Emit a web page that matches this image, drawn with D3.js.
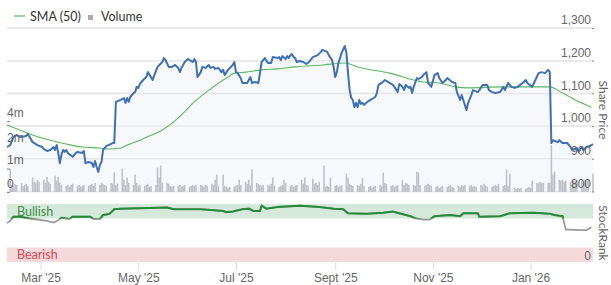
<!DOCTYPE html>
<html>
<head>
<meta charset="utf-8">
<script src="https://cdn.jsdelivr.net/npm/d3@7"></script>
<style>
  body { margin: 0; background: #fff; }
  svg { display: block; font-family: Lato, "Open Sans", sans-serif; }
  .axis .domain { display: none; }
  .axis text { fill: #666; font-size: 12px; }
</style>
</head>
<body>
<svg width="611" height="285"></svg>
<script>
// closing share price
var priceSeries = [
  ["2025-02-08",936],["2025-02-10",942],["2025-02-12",967],["2025-02-14",973],["2025-02-16",967],
  ["2025-02-20",970],["2025-02-21",976],["2025-02-24",951],["2025-02-27",942],["2025-03-02",936],
  ["2025-03-03",930],["2025-03-05",924],["2025-03-07",927],["2025-03-09",936],["2025-03-10",927],
  ["2025-03-11",942],["2025-03-12",918],["2025-03-13",887],["2025-03-14",912],["2025-03-15",927],
  ["2025-03-16",921],["2025-03-17",927],["2025-03-18",918],["2025-03-21",906],["2025-03-23",918],
  ["2025-03-24",921],["2025-03-27",918],["2025-03-28",924],["2025-03-29",887],["2025-03-31",890],
  ["2025-04-02",887],["2025-04-03",875],["2025-04-04",893],["2025-04-05",875],["2025-04-06",860],
  ["2025-04-07",881],["2025-04-08",890],["2025-04-09",927],["2025-04-11",939],["2025-04-15",948],
  ["2025-04-16",948],["2025-04-17",1074],["2025-04-20",1080],["2025-04-22",1086],["2025-04-23",1071],
  ["2025-04-24",1086],["2025-04-25",1074],["2025-04-26",1089],["2025-04-28",1101],["2025-04-29",1104],
  ["2025-04-30",1120],["2025-05-01",1117],["2025-05-02",1129],["2025-05-04",1141],["2025-05-06",1150],
  ["2025-05-07",1165],["2025-05-10",1141],["2025-05-11",1156],["2025-05-13",1181],["2025-05-16",1196],
  ["2025-05-17",1208],["2025-05-18",1202],["2025-05-20",1181],["2025-05-22",1181],["2025-05-24",1187],
  ["2025-05-26",1178],["2025-05-27",1165],["2025-05-28",1178],["2025-05-30",1196],["2025-06-01",1205],
  ["2025-06-04",1196],["2025-06-05",1205],["2025-06-06",1196],["2025-06-07",1150],["2025-06-09",1165],
  ["2025-06-10",1181],["2025-06-12",1178],["2025-06-14",1187],["2025-06-15",1178],["2025-06-17",1181],
  ["2025-06-18",1175],["2025-06-20",1178],["2025-06-22",1165],["2025-06-23",1172],["2025-06-24",1156],
  ["2025-06-26",1172],["2025-06-29",1187],["2025-06-30",1196],["2025-07-01",1165],["2025-07-02",1162],
  ["2025-07-04",1147],["2025-07-05",1132],["2025-07-08",1132],["2025-07-09",1141],["2025-07-10",1150],
  ["2025-07-11",1132],["2025-07-13",1135],["2025-07-15",1132],["2025-07-16",1162],["2025-07-17",1196],
  ["2025-07-19",1208],["2025-07-21",1193],["2025-07-23",1193],["2025-07-24",1211],["2025-07-27",1208],
  ["2025-07-28",1211],["2025-07-29",1202],["2025-07-30",1214],["2025-08-01",1205],["2025-08-02",1214],
  ["2025-08-03",1208],["2025-08-04",1217],["2025-08-05",1220],["2025-08-06",1211],["2025-08-07",1208],
  ["2025-08-08",1196],["2025-08-10",1199],["2025-08-12",1196],["2025-08-13",1193],["2025-08-14",1190],
  ["2025-08-15",1193],["2025-08-16",1199],["2025-08-18",1211],["2025-08-21",1217],["2025-08-23",1227],
  ["2025-08-24",1233],["2025-08-27",1227],["2025-08-28",1217],["2025-08-30",1202],["2025-08-31",1181],
  ["2025-09-01",1150],["2025-09-02",1165],["2025-09-03",1193],["2025-09-05",1224],["2025-09-07",1245],
  ["2025-09-08",1224],["2025-09-09",1162],["2025-09-10",1110],["2025-09-11",1086],["2025-09-12",1080],
  ["2025-09-13",1058],["2025-09-14",1071],["2025-09-15",1058],["2025-09-16",1080],["2025-09-17",1068],
  ["2025-09-18",1071],["2025-09-19",1065],["2025-09-21",1074],["2025-09-23",1080],["2025-09-25",1086],
  ["2025-09-26",1089],["2025-09-27",1101],["2025-09-28",1126],["2025-09-30",1132],["2025-10-02",1141],
  ["2025-10-04",1135],["2025-10-07",1126],["2025-10-08",1120],["2025-10-10",1104],["2025-10-11",1129],
  ["2025-10-13",1120],["2025-10-14",1110],["2025-10-15",1126],["2025-10-17",1117],["2025-10-18",1120],
  ["2025-10-19",1101],["2025-10-20",1120],["2025-10-22",1147],["2025-10-23",1144],["2025-10-25",1150],
  ["2025-10-26",1156],["2025-10-28",1165],["2025-10-29",1132],["2025-10-31",1120],["2025-11-02",1156],
  ["2025-11-04",1162],["2025-11-05",1147],["2025-11-07",1132],["2025-11-09",1141],["2025-11-10",1147],
  ["2025-11-13",1135],["2025-11-15",1132],["2025-11-16",1104],["2025-11-18",1080],["2025-11-19",1095],
  ["2025-11-20",1080],["2025-11-22",1049],["2025-11-23",1071],["2025-11-25",1095],["2025-11-26",1110],
  ["2025-11-29",1104],["2025-11-30",1110],["2025-12-02",1126],["2025-12-05",1126],["2025-12-06",1110],
  ["2025-12-08",1104],["2025-12-10",1101],["2025-12-13",1104],["2025-12-15",1120],["2025-12-16",1110],
  ["2025-12-18",1132],["2025-12-20",1120],["2025-12-22",1117],["2025-12-24",1120],["2025-12-27",1132],
  ["2025-12-29",1141],["2025-12-30",1132],["2026-01-02",1120],["2026-01-04",1141],["2026-01-06",1162],
  ["2026-01-08",1165],["2026-01-10",1162],["2026-01-12",1172],["2026-01-13",1165],["2026-01-14",948],
  ["2026-01-15",957],["2026-01-18",951],["2026-01-19",957],["2026-01-21",948],["2026-01-24",948],
  ["2026-01-26",936],["2026-01-27",927],["2026-01-30",933],["2026-01-31",921],["2026-02-02",936],
  ["2026-02-03",927],["2026-02-05",936],["2026-02-07",939],["2026-02-09",945]
];

// 50 day simple moving average
var smaSeries = [
  ["2025-02-08",1003],["2025-02-16",988],["2025-02-24",973],["2025-03-07",957],["2025-03-17",945],
  ["2025-03-27",936],["2025-04-07",933],["2025-04-13",930],["2025-04-20",933],["2025-04-24",942],
  ["2025-05-02",957],["2025-05-08",970],["2025-05-16",988],["2025-05-26",1025],["2025-06-05",1074],
  ["2025-06-16",1117],["2025-06-26",1150],["2025-06-30",1162],["2025-07-07",1165],["2025-07-17",1172],
  ["2025-07-27",1175],["2025-08-07",1181],["2025-08-24",1187],["2025-09-07",1193],["2025-09-15",1181],
  ["2025-10-05",1162],["2025-10-26",1135],["2025-11-05",1132],["2025-11-15",1120],["2025-11-23",1117],
  ["2025-12-14",1120],["2026-01-04",1120],["2026-01-13",1120],["2026-01-21",1101],["2026-01-29",1080],
  ["2026-02-08",1058]
];

// daily volume in thousands, one row per trading week starting Mon 10 Feb 2025
var volumeK = [
  960,300,260,350,300, 390,260,300,350,260, 610,430,390,520,430, 520,390,650,430,350,
  700,480,650,390,300, 260,300,220,300,350, 260,300,220,260,300, 260,300,350,260,390,
  300,390,350,300,260, 390,350,830,300,350, 1000,520,300,610,390, 300,740,390,260,300,
  260,300,350,220,260, 300,1040,610,1130,390, 390,350,260,220,260, 260,300,220,260,300,
  220,260,300,260,300, 300,260,220,300,260, 350,300,520,740,260, 740,260,220,175,220,
  220,260,300,520,300, 435,350,520,300,960, 390,350,300,260,300, 300,260,350,610,260,
  220,260,300,520,390, 260,300,220,260,300, 520,350,610,300,260, 570,350,390,300,435,
  1130,220,260,220,610, 260,300,220,260,300, 780,610,350,300,260, 300,260,350,610,260,
  220,260,175,220,260, 300,260,830,390,350, 260,300,220,260,300, 520,300,390,350,300,
  300,260,870,830,300, 260,300,350,300,260, 220,260,175,220,260, 220,260,300,220,175,
  260,220,300,260,300, 260,300,220,260,220, 300,260,350,260,220, 220,260,300,260,350,
  260,300,960,260,780, 175,130,175,130,175, 130,175,220,175,480, 390,390,430,390,390,
  390,390,2050,740,870, 520,480,520,430,480, 430,520,480,430,520, 480,430,520,480,520,
  780
];

// StockRank (0-100)
var rankSeries = [
  ["2025-02-08",67],["2025-02-10",71],["2025-02-12",78],["2025-02-16",78],["2025-02-22",75],
  ["2025-03-05",71],["2025-03-09",68],["2025-03-12",72],["2025-03-14",76],["2025-03-19",74],
  ["2025-03-21",78],["2025-04-01",78],["2025-04-03",74],["2025-04-07",74],["2025-04-09",81],
  ["2025-04-13",83],["2025-04-16",91],["2025-04-20",92],["2025-05-19",94],["2025-05-23",91],
  ["2025-06-09",91],["2025-06-23",88],["2025-06-25",86],["2025-06-29",87],["2025-07-05",91],
  ["2025-07-09",92],["2025-07-12",88],["2025-07-16",88],["2025-07-17",97],["2025-07-20",92],
  ["2025-07-27",95],["2025-08-10",97],["2025-08-22",95],["2025-08-31",92],["2025-09-06",91],
  ["2025-09-09",84],["2025-09-21",83],["2025-10-01",85],["2025-10-07",87],["2025-10-11",84],
  ["2025-10-18",79],["2025-10-21",75],["2025-10-26",73],["2025-10-30",73],["2025-11-02",79],
  ["2025-11-12",81],["2025-11-18",79],["2025-11-20",84],["2025-11-29",84],["2025-11-30",78],
  ["2025-12-13",79],["2025-12-19",84],["2026-01-03",85],["2026-01-13",83],["2026-01-16",81],
  ["2026-01-21",79],["2026-01-23",56],["2026-02-01",55],["2026-02-05",55],["2026-02-08",60]
];

var priceTicks = [800, 900, 1000, 1100, 1200, 1300],
    volumeTicks = [0, 1e6, 2e6, 4e6],
    monthTicks = ["2025-03-01","2025-05-01","2025-07-01","2025-09-01","2025-11-01","2026-01-01"],
    monthNames = ["Jan","Feb","Mar","Apr","May","Jun","Jul","Aug","Sept","Oct","Nov","Dec"];

var parse = d3.timeParse("%Y-%m-%d");
var svg = d3.select("svg");

var x = d3.scaleTime()
    .domain([parse("2025-02-08"), parse("2026-02-09")])
    .range([7, 593]);

var yPrice = d3.scaleLinear().domain([800, 1300]).range([191.5, 28]);
// volume axis is stretched at the bottom: 1m, 2m and 4m sit about evenly spaced
var yVol = d3.scaleLinear().domain([0, 1e6, 2e6, 4e6]).range([192, 168.5, 146, 121]);
var yRank = d3.scaleLinear().domain([0, 100]).range([262, 204]);

var prices = priceSeries.map(function(d) { return {date: parse(d[0]), v: d[1]}; });
var sma = smaSeries.map(function(d) { return {date: parse(d[0]), v: d[1]}; });
var ranks = rankSeries.map(function(d) { return {date: parse(d[0]), v: d[1]}; });

// trading days (weekdays) to place the volume bars
var tradingDays = d3.timeDay.range(parse("2025-02-10"), parse("2026-02-10"))
    .filter(function(d) { return d.getDay() % 6 !== 0; });
var volumes = tradingDays.map(function(d, i) { return {date: d, v: (volumeK[i] || 0) * 1000}; });

// gridlines
svg.append("g").selectAll("line")
  .data(priceTicks)
  .enter().append("line")
    .attr("x1", 7).attr("x2", 593)
    .attr("y1", function(d) { return yPrice(d); })
    .attr("y2", function(d) { return yPrice(d); })
    .attr("stroke", "#e8e8e8")
    .attr("stroke-width", 1.5);

// very light fill under the price line
svg.append("path")
    .datum(prices)
    .attr("fill", "#f7f8fc")
    .attr("d", d3.area()
      .x(function(d) { return x(d.date); })
      .y0(yPrice(800))
      .y1(function(d) { return yPrice(d.v); }));

// redraw gridlines faintly over the fill
svg.append("g").selectAll("line")
  .data(priceTicks)
  .enter().append("line")
    .attr("x1", 7).attr("x2", 593)
    .attr("y1", function(d) { return yPrice(d); })
    .attr("y2", function(d) { return yPrice(d); })
    .attr("stroke", "#e8e8e8")
    .attr("stroke-width", 1.5);

// volume bars
svg.append("g").selectAll("rect")
  .data(volumes)
  .enter().append("rect")
    .attr("x", function(d) { return x(d.date) - 0.8; })
    .attr("width", 1.6)
    .attr("y", function(d) { return yVol(d.v); })
    .attr("height", function(d) { return yVol(0) - yVol(d.v); })
    .attr("fill", "#c0c1c8");

// SMA (50)
svg.append("path")
    .datum(sma)
    .attr("fill", "none")
    .attr("stroke", "#5cb85c")
    .attr("stroke-width", 1.1)
    .attr("d", d3.line().curve(d3.curveMonotoneX)
      .x(function(d) { return x(d.date); })
      .y(function(d) { return yPrice(d.v); }));

// share price
svg.append("path")
    .datum(prices)
    .attr("fill", "none")
    .attr("stroke", "#3e70b8")
    .attr("stroke-width", 2)
    .attr("stroke-linejoin", "round")
    .attr("d", d3.line()
      .x(function(d) { return x(d.date); })
      .y(function(d) { return yPrice(d.v); }));

// price axis on the right
var priceAxis = svg.append("g")
    .attr("class", "axis")
    .attr("transform", "translate(594,0)")
    .call(d3.axisLeft(yPrice).tickValues(priceTicks).tickSize(2).tickPadding(1).tickFormat(d3.format(",")));
priceAxis.selectAll("line").attr("stroke", "#888");
priceAxis.selectAll("text").attr("dy", "-0.35em");

// volume axis on the left
var volAxis = svg.append("g")
    .attr("class", "axis")
    .attr("transform", "translate(7,0)")
    .call(d3.axisRight(yVol).tickValues(volumeTicks).tickSize(3).tickPadding(-3)
      .tickFormat(function(d) { return d === 0 ? "0" : d / 1e6 + "m"; }));
volAxis.selectAll("line").attr("stroke", "#888");
volAxis.selectAll("text").attr("dy", "-0.4em").attr("font-size", "13px");

svg.append("text")
    .attr("transform", "translate(599,110) rotate(90)")
    .attr("text-anchor", "middle")
    .attr("fill", "#666")
    .attr("font-size", 12)
    .text("Share Price");

// legend
svg.append("line").attr("x1", 14).attr("x2", 25).attr("y1", 16).attr("y2", 16)
    .attr("stroke", "#5cb85c").attr("stroke-width", 1.2);
svg.append("text").attr("x", 30).attr("y", 20.5).attr("fill", "#333").attr("font-size", 12.5).text("SMA (50)");
svg.append("rect").attr("x", 88).attr("y", 15).attr("width", 5).attr("height", 5).attr("fill", "#aaa");
svg.append("text").attr("x", 101).attr("y", 20.5).attr("fill", "#333").attr("font-size", 12.5).text("Volume");

// StockRank bands
svg.append("rect")
    .attr("x", 7).attr("width", 586)
    .attr("y", yRank(100)).attr("height", yRank(75) - yRank(100))
    .attr("fill", "#d5e9db");
svg.append("rect")
    .attr("x", 7).attr("width", 586)
    .attr("y", yRank(25)).attr("height", yRank(0) - yRank(25))
    .attr("fill", "#f6dadb");
svg.append("text").attr("x", 17).attr("y", yRank(75) - 3).attr("fill", "#3c8c45").attr("font-size", 12.5).text("Bullish");
svg.append("text").attr("x", 17).attr("y", yRank(0) - 3).attr("fill", "#d64550").attr("font-size", 12.5).text("Bearish");

var rankLine = d3.line()
    .x(function(d) { return x(d.date); })
    .y(function(d) { return yRank(d.v); });

svg.append("clipPath").attr("id", "bull")
  .append("rect").attr("x", 0).attr("width", 611)
    .attr("y", yRank(100) - 5).attr("height", yRank(75) - yRank(100) + 5);

svg.append("path")
    .datum(ranks)
    .attr("fill", "none")
    .attr("stroke", "#9c9c9c")
    .attr("stroke-width", 1.8)
    .attr("d", rankLine);
svg.append("path")
    .datum(ranks)
    .attr("clip-path", "url(#bull)")
    .attr("fill", "none")
    .attr("stroke", "#268a3a")
    .attr("stroke-width", 2)
    .attr("d", rankLine);

var rankAxis = svg.append("g")
    .attr("class", "axis")
    .attr("transform", "translate(594,0)")
    .call(d3.axisLeft(yRank).tickValues([0]).tickSize(0).tickPadding(3));
rankAxis.selectAll("text").attr("dy", "-0.2em").attr("fill", "#444");

svg.append("text")
    .attr("transform", "translate(599,233) rotate(90)")
    .attr("text-anchor", "middle")
    .attr("fill", "#666")
    .attr("font-size", 12)
    .text("StockRank");

// date axis
var xAxis = svg.append("g")
    .attr("class", "axis")
    .attr("transform", "translate(0," + yRank(0) + ")")
    .call(d3.axisBottom(x).tickValues(monthTicks.map(parse)).tickSize(8).tickPadding(3)
      .tickFormat(function(d) { return monthNames[d.getMonth()] + " '" + d3.timeFormat("%y")(d); }));
xAxis.selectAll("line").attr("stroke", "#ddd");
xAxis.selectAll("text").attr("fill", "#555").attr("font-size", 12.5);
</script>
</body>
</html>
